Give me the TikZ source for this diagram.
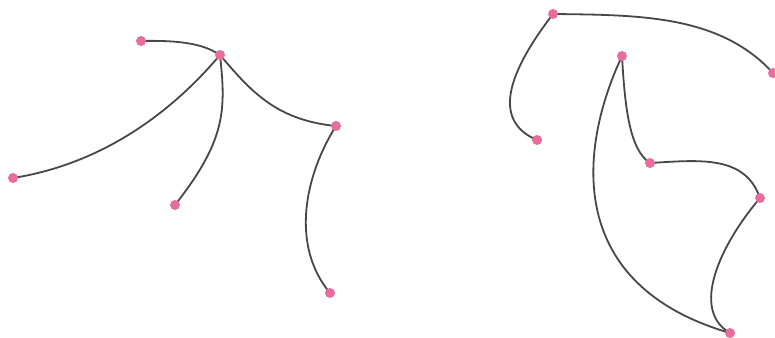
\documentclass[tikz,border=0pt]{standalone}
\definecolor{dotpink}{HTML}{E86C9E}
\definecolor{edgegray}{HTML}{474747}
\pgfdeclarelayer{bg}
\pgfsetlayers{bg,main}
\begin{document}
\begin{tikzpicture}[x=1pt,y=-1pt,
  dot/.style={circle,fill=dotpink,draw=none,minimum size=10pt,inner sep=0pt},
  edge/.style={draw=edgegray,line width=1.8pt,line cap=round}]
\useasboundingbox (0,0) rectangle (775,337);
% left graph
\node[dot] (A) at (220,55) {};
\node[dot] (B) at (141,41) {};
\node[dot] (C) at (13,178) {};
\node[dot] (D) at (175,205) {};
\node[dot] (E) at (336,126) {};
\node[dot] (F) at (330,293) {};
% right graph
\node[dot] (G) at (553,14) {};
\node[dot] (H) at (537,140) {};
\node[dot] (I) at (773,73) {};
\node[dot] (J) at (622,56) {};
\node[dot] (K) at (650,163) {};
\node[dot] (L) at (760,198) {};
\node[dot] (M) at (730,333) {};
\begin{pgfonlayer}{bg}
\path[edge] (B.center) .. controls (185,40) and (205,45) .. (A.center);
\path[edge] (A.center) .. controls (165,120) and (95,165) .. (C.center);
\path[edge] (A.center) .. controls (226,110) and (226,140) .. (D.center);
\path[edge] (A.center) .. controls (250,90) and (275,120) .. (E.center);
\path[edge] (E.center) .. controls (305,175) and (290,245) .. (F.center);
\path[edge] (G.center) .. controls (510,70) and (490,120) .. (H.center);
\path[edge] (G.center) .. controls (640,15) and (720,15) .. (I.center);
\path[edge] (J.center) .. controls (625,110) and (630,150) .. (K.center);
\path[edge] (J.center) .. controls (578,150) and (565,285) .. (M.center);
\path[edge] (K.center) .. controls (700,160) and (745,155) .. (L.center);
\path[edge] (L.center) .. controls (720,245) and (690,310) .. (M.center);
\end{pgfonlayer}
\end{tikzpicture}
\end{document}
